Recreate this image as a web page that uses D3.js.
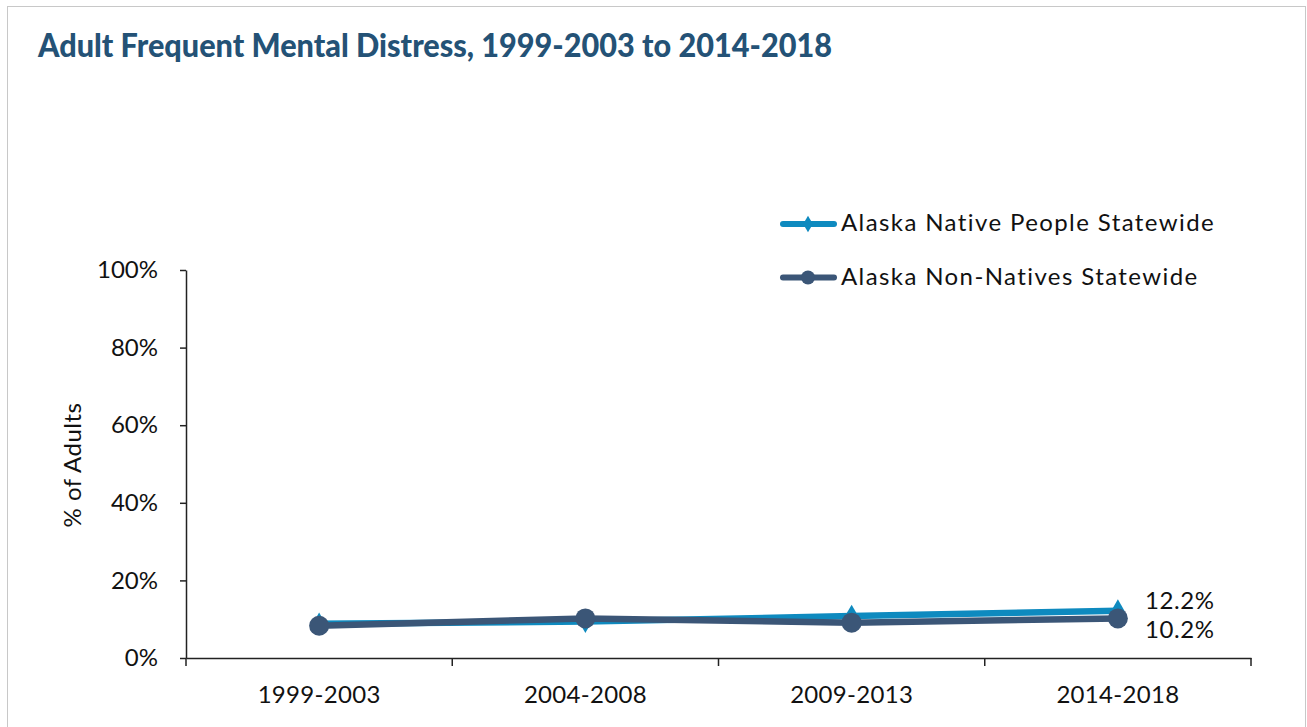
<!DOCTYPE html>
<html><head><meta charset="utf-8">
<script src="https://cdn.jsdelivr.net/npm/d3@7/dist/d3.min.js"></script>
<style>
body{margin:0;background:#fff;}
svg{display:block;}
</style></head>
<body>
<svg id="chart" width="1307" height="727"></svg>
<script>
const categories = ["1999-2003","2004-2008","2009-2013","2014-2018"];
const nativeValues = [8.8, 9.4, 10.8, 12.2];
const nonNativeValues = [8.3, 10.2, 9.1, 10.2];
const seriesNames = ["Alaska Native People Statewide","Alaska Non-Natives Statewide"];
const yTicks = [0,20,40,60,80,100];
const title = "Adult Frequent Mental Distress, 1999-2003 to 2014-2018";
const yLabel = "% of Adults";

(function(){
const svg = d3.select("#chart");
const font = "Lato, 'Open Sans', sans-serif";
const colors = ["#0E8ABF", "#3B5677"];
const fs = 24;

svg.append("rect").attr("x",7.5).attr("y",6.5).attr("width",1298).attr("height",740)
  .attr("fill","none").attr("stroke","#c8c8c8").attr("stroke-width",1);

svg.append("text").attr("x",38).attr("y",57).text(title)
  .attr("font-family", "Lato, sans-serif").attr("font-weight",900)
  .attr("font-size",32).attr("fill","#245276")
  .attr("textLength",794).attr("lengthAdjust","spacingAndGlyphs");

const pl=186, pr=1251, pt=270, pb=658;
const x = d3.scaleBand().domain(categories).range([pl,pr]);
const y = d3.scaleLinear().domain([0,100]).range([pb,pt]);

const yAxis = svg.append("g").attr("transform",`translate(${pl},0)`)
  .call(d3.axisLeft(y).tickValues(yTicks).tickFormat(d=>d+"%").tickSize(6).tickSizeOuter(0));
yAxis.select(".domain").attr("stroke","#222").attr("stroke-width",1.5);
yAxis.selectAll(".tick line").attr("stroke","#222").attr("stroke-width",1.5);
yAxis.selectAll("text").attr("font-family",font).attr("font-size",fs).attr("fill","#111").attr("x",-28);

const xAxis = svg.append("g").attr("transform",`translate(0,${pb})`)
  .call(d3.axisBottom(x).tickSize(0).tickSizeOuter(0));
xAxis.select(".domain").attr("stroke","#222").attr("stroke-width",1.5);
xAxis.selectAll("text").attr("font-family",font).attr("font-size",fs).attr("fill","#111")
  .attr("dy",0).attr("y",45).attr("letter-spacing",0.3);
const bounds = categories.map(c=>x(c)).concat([x(categories[categories.length-1])+x.bandwidth()]);
svg.append("g").selectAll("line").data(bounds).join("line")
  .attr("x1",d=>d).attr("x2",d=>d).attr("y1",pb).attr("y2",pb+8)
  .attr("stroke","#222").attr("stroke-width",1.5);

svg.append("text").attr("transform",`translate(81,465) rotate(-90)`)
  .attr("text-anchor","middle").attr("font-family",font).attr("font-size",fs).attr("fill","#111")
  .attr("letter-spacing",0.5).text(yLabel);

const cx = c => x(c)+x.bandwidth()/2;
const line = d3.line().x((d,i)=>cx(categories[i])).y(d=>y(d));

svg.append("path").datum(nativeValues).attr("d",line).attr("fill","none")
  .attr("stroke",colors[0]).attr("stroke-width",6.5).attr("stroke-linejoin","round");
const diamond = d3.symbol().type(d3.symbolDiamond).size(150);
svg.append("g").selectAll("path").data(nativeValues).join("path")
  .attr("d",diamond).attr("transform",(d,i)=>`translate(${cx(categories[i])},${y(d)})`).attr("fill",colors[0]);

svg.append("path").datum(nonNativeValues).attr("d",line).attr("fill","none")
  .attr("stroke",colors[1]).attr("stroke-width",6.5).attr("stroke-linejoin","round");
svg.append("g").selectAll("circle").data(nonNativeValues).join("circle")
  .attr("cx",(d,i)=>cx(categories[i])).attr("cy",d=>y(d)).attr("r",10).attr("fill",colors[1]);

const last = categories.length-1;
svg.append("text").attr("x",cx(categories[last])+27).attr("y",y(nativeValues[last])-2)
  .attr("font-family",font).attr("font-size",fs).attr("fill","#111").attr("letter-spacing",0.6)
  .text(nativeValues[last].toFixed(1)+"%");
svg.append("text").attr("x",cx(categories[last])+27).attr("y",y(nonNativeValues[last])+20)
  .attr("font-family",font).attr("font-size",fs).attr("fill","#111").attr("letter-spacing",0.6)
  .text(nonNativeValues[last].toFixed(1)+"%");

const lg = svg.append("g");
const diamondSmall = d3.symbol().type(d3.symbolDiamond).size(80);
seriesNames.forEach((name,i)=>{
  const ly = 224 + i*53.5;
  lg.append("line").attr("x1",783).attr("x2",834).attr("y1",ly).attr("y2",ly)
    .attr("stroke",colors[i]).attr("stroke-width",6).attr("stroke-linecap","round");
  if(i===0) lg.append("path").attr("d",diamondSmall).attr("transform",`translate(808,${ly})`).attr("fill",colors[0]);
  else lg.append("circle").attr("cx",808).attr("cy",ly).attr("r",7).attr("fill",colors[1]);
  lg.append("text").attr("x",841).attr("y",ly+7).attr("font-family",font).attr("font-size",fs)
    .attr("letter-spacing",1.4).attr("fill","#111").text(name);
});
})();
</script>
</body></html>
